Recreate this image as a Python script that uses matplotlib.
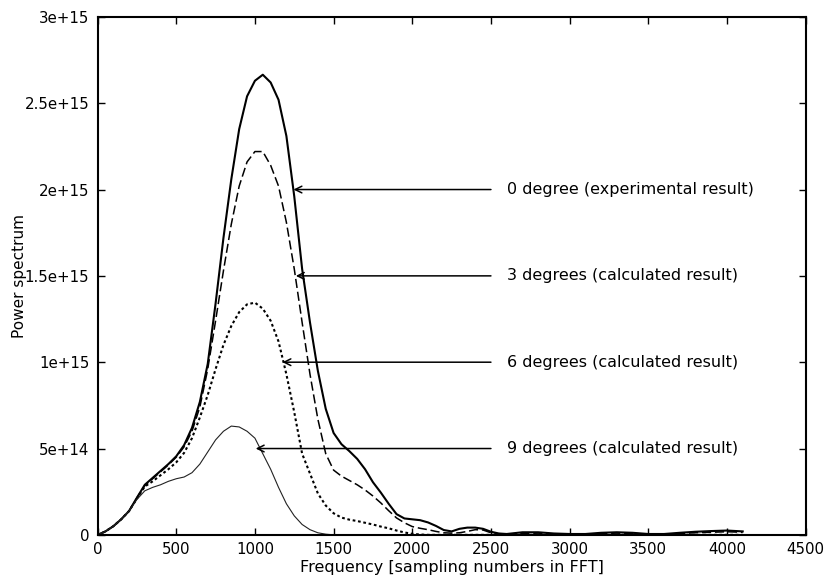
import numpy as np
import matplotlib
matplotlib.use("Agg")
import matplotlib.pyplot as plt

# frequency (sampling numbers in FFT)
freq = list(range(0, 2650, 50)) + list(range(2700, 4200, 100))

# power spectrum, units of 1e14
deg0 = [0, 0.2, 0.5, 0.9, 1.38, 2.15, 2.9, 3.3, 3.7, 4.1,
        4.55, 5.2, 6.2, 7.7, 9.9, 13.4, 17.2, 20.6, 23.5, 25.4,
        26.3, 26.65, 26.2, 25.2, 23.1, 19.6, 15.4, 12.3, 9.5, 7.3,
        5.9, 5.25, 4.85, 4.4, 3.8, 3.05, 2.45, 1.8, 1.2, 0.95,
        0.9, 0.85, 0.72, 0.52, 0.28, 0.2, 0.35, 0.42, 0.42, 0.35,
        0.18, 0.08, 0.05,
        0.15, 0.15, 0.08, 0.05, 0.05, 0.12, 0.15, 0.12, 0.05, 0.05,
        0.12, 0.18, 0.22, 0.25, 0.2]
deg3 = [0, 0.2, 0.5, 0.9, 1.38, 2.15, 2.85, 3.25, 3.65, 4.05,
        4.5, 5.1, 6.0, 7.4, 9.6, 12.4, 15.3, 18.0, 20.2, 21.6,
        22.2, 22.2, 21.4, 20.2, 18.1, 15.4, 12.3, 9.3, 6.7, 4.7,
        3.75, 3.4, 3.15, 2.9, 2.6, 2.25, 1.85, 1.4, 0.98, 0.7,
        0.48, 0.38, 0.3, 0.2, 0.12, 0.1, 0.12, 0.2, 0.3, 0.28,
        0.12, 0.05, 0.03,
        0.08, 0.1, 0.05, 0.03, 0.03, 0.08, 0.1, 0.08, 0.03, 0.03,
        0.08, 0.12, 0.15, 0.18, 0.15]
deg6 = [0, 0.2, 0.5, 0.9, 1.38, 2.1, 2.8, 3.1, 3.45, 3.8,
        4.2, 4.75, 5.6, 6.8, 8.1, 9.6, 11.0, 12.1, 12.9, 13.35,
        13.45, 13.1, 12.4, 11.2, 9.3, 7.1, 4.7, 3.55, 2.4, 1.7,
        1.25, 1.0, 0.88, 0.8, 0.7, 0.6, 0.48, 0.38, 0.25, 0.14,
        0.06, 0.02, 0, 0, 0, 0, 0, 0, 0, 0,
        0, 0, 0,
        0, 0, 0, 0, 0, 0, 0, 0, 0, 0,
        0, 0, 0, 0, 0]
deg9 = [0, 0.2, 0.5, 0.9, 1.38, 2.05, 2.55, 2.75, 2.9, 3.1,
        3.25, 3.35, 3.6, 4.1, 4.8, 5.5, 6.0, 6.3, 6.25, 6.0,
        5.6, 4.7, 3.8, 2.75, 1.8, 1.1, 0.6, 0.3, 0.12, 0.04,
        0, 0, 0, 0, 0, 0, 0, 0, 0, 0,
        0, 0, 0, 0, 0, 0, 0, 0, 0, 0,
        0, 0, 0,
        0, 0, 0, 0, 0, 0, 0, 0, 0, 0,
        0, 0, 0, 0, 0]

labels = ["0 degree (experimental result)", "3 degrees (calculated result)",
          "6 degrees (calculated result)", "9 degrees (calculated result)"]
label_y = [2e15, 1.5e15, 1e15, 5e14]
arrow_tip = [1245, 1260, 1175, 1005]

xticks = [0, 500, 1000, 1500, 2000, 2500, 3000, 3500, 4000, 4500]
yticks = [0, 5e14, 1e15, 1.5e15, 2e15, 2.5e15, 3e15]
yticklabels = ["0", "5e+14", "1e+15", "1.5e+15", "2e+15", "2.5e+15", "3e+15"]

plt.rcParams['font.family'] = ['DejaVu Sans']

fig = plt.figure(figsize=(8.34, 5.82), dpi=100)
ax = fig.add_axes([0.117, 0.081, 0.849, 0.890])

f = np.array(freq)
ax.plot(f, np.array(deg0) * 1e14, color='black', lw=1.5)
ax.plot(f, np.array(deg3) * 1e14, color='black', lw=1.1, dashes=(6, 2.5))
ax.plot(f, np.array(deg6) * 1e14, color='black', lw=1.5, dashes=(1.3, 1.3))
ax.plot(f, np.array(deg9) * 1e14, color='#222222', lw=0.8)

for lab, y, tip in zip(labels, label_y, arrow_tip):
    ax.annotate('', xy=(tip, y), xytext=(2500, y),
                arrowprops=dict(arrowstyle='->', lw=1.1, color='black',
                                shrinkA=0, shrinkB=0, mutation_scale=12))
    ax.text(2600, y, lab, fontsize=11.5, va='center', ha='left')

ax.set_xlim(0, 4500)
ax.set_ylim(0, 3e15)
ax.set_xticks(xticks)
ax.set_xticklabels([str(t) for t in xticks])
ax.set_yticks(yticks)
ax.set_yticklabels(yticklabels)
ax.tick_params(direction='in', length=5, width=1, top=True, right=True,
               labelsize=10.8)
ax.tick_params(axis='y', pad=6)
ax.tick_params(axis='x', pad=5)
for s in ax.spines.values():
    s.set_linewidth(1.5)

ax.set_xlabel('Frequency [sampling numbers in FFT]', fontsize=11.5)
ax.xaxis.set_label_coords(0.5, -0.048)
ax.set_ylabel('Power spectrum', fontsize=11)
ax.yaxis.set_label_coords(-0.1, 0.5)

fig.savefig('out.png', dpi=100)
